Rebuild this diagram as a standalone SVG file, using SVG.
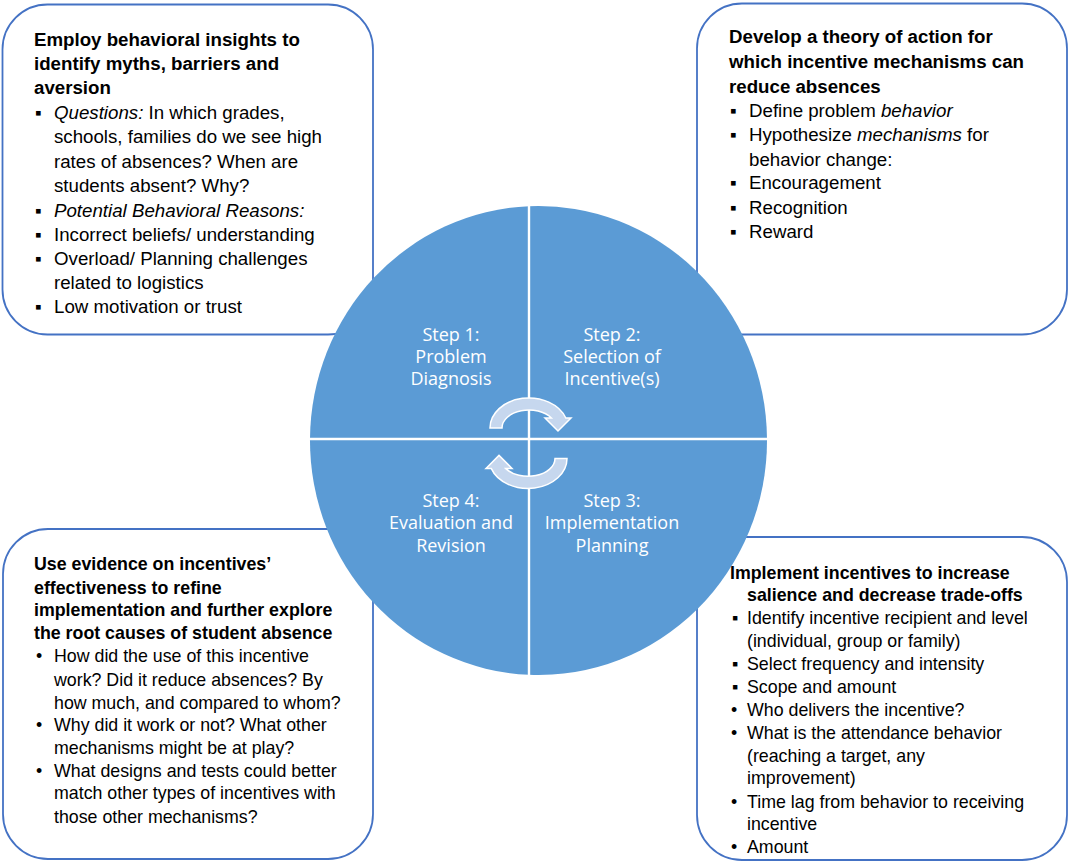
<svg xmlns="http://www.w3.org/2000/svg" width="1069" height="863" viewBox="0 0 1069 863">
<style>
.box{fill:#ffffff;stroke:#4472c4;stroke-width:1.8}
.t{font-family:"Liberation Sans",Arial,sans-serif;fill:#000000}
.big{font-size:18.7px}
.small{font-size:17.8px}
.b{font-weight:bold}
.i{font-style:italic}
.q{fill:#5b9bd5}
.step{font-family:"Open Sans","Noto Sans",sans-serif;font-size:18px;fill:#ffffff;text-anchor:middle}
.arr{fill:#c6d7ee;stroke:#ffffff;stroke-width:1.5}
.div{stroke:#ffffff;stroke-width:2.4}
</style>
<rect width="1069" height="863" fill="#ffffff"/>

<g id="box-diagnosis">
<rect class="box" x="2.5" y="4.5" width="370.5" height="330" rx="45"/>
<text class="t big b" x="34" y="46">Employ behavioral insights to</text>
<text class="t big b" x="34" y="70">identify myths, barriers and</text>
<text class="t big b" x="34" y="94">aversion</text>
<text class="t big" x="35" y="119">▪</text>
<text class="t big" x="54" y="119"><tspan class="i">Questions:</tspan> In which grades,</text>
<text class="t big" x="54" y="143">schools, families do we see high</text>
<text class="t big" x="54" y="168">rates of absences? When are</text>
<text class="t big" x="54" y="192">students absent? Why?</text>
<text class="t big" x="35" y="217">▪</text>
<text class="t big i" x="54" y="217">Potential Behavioral Reasons:</text>
<text class="t big" x="35" y="241">▪</text>
<text class="t big" x="54" y="241">Incorrect beliefs/ understanding</text>
<text class="t big" x="35" y="265">▪</text>
<text class="t big" x="54" y="265">Overload/ Planning challenges</text>
<text class="t big" x="54" y="289">related to logistics</text>
<text class="t big" x="35" y="313">▪</text>
<text class="t big" x="54" y="313">Low motivation or trust</text>
</g>

<g id="box-selection">
<rect class="box" x="697" y="3.5" width="370" height="331" rx="45"/>
<text class="t big b" x="729" y="43">Develop a theory of action for</text>
<text class="t big b" x="729" y="68">which incentive mechanisms can</text>
<text class="t big b" x="729" y="93">reduce absences</text>
<text class="t big" x="730" y="117">▪</text>
<text class="t big" x="749" y="117">Define problem <tspan class="i">behavior</tspan></text>
<text class="t big" x="730" y="141">▪</text>
<text class="t big" x="749" y="141">Hypothesize <tspan class="i">mechanisms</tspan> for</text>
<text class="t big" x="749" y="166">behavior change:</text>
<text class="t big" x="730" y="189">▪</text>
<text class="t big" x="749" y="189">Encouragement</text>
<text class="t big" x="730" y="214">▪</text>
<text class="t big" x="749" y="214">Recognition</text>
<text class="t big" x="730" y="238">▪</text>
<text class="t big" x="749" y="238">Reward</text>
</g>

<g id="box-evaluation">
<rect class="box" x="3" y="529" width="370" height="330" rx="45"/>
<text class="t small b" x="34" y="570">Use evidence on incentives’</text>
<text class="t small b" x="34" y="594">effectiveness to refine</text>
<text class="t small b" x="34" y="616">implementation and further explore</text>
<text class="t small b" x="34" y="639">the root causes of student absence</text>
<text class="t small" x="36" y="662">•</text>
<text class="t small" x="54" y="662">How did the use of this incentive</text>
<text class="t small" x="54" y="686">work? Did it reduce absences? By</text>
<text class="t small" x="54" y="709">how much, and compared to whom?</text>
<text class="t small" x="36" y="731">•</text>
<text class="t small" x="54" y="731">Why did it work or not? What other</text>
<text class="t small" x="54" y="754">mechanisms might be at play?</text>
<text class="t small" x="36" y="777">•</text>
<text class="t small" x="54" y="777">What designs and tests could better</text>
<text class="t small" x="54" y="799">match other types of incentives with</text>
<text class="t small" x="54" y="823">those other mechanisms?</text>
</g>

<g id="box-implementation">
<rect class="box" x="697" y="537" width="370" height="323" rx="45"/>
<text class="t small b" x="730" y="579">Implement incentives to increase</text>
<text class="t small b" x="747" y="601">salience and decrease trade-offs</text>
<text class="t small" x="732" y="624">▪</text>
<text class="t small" x="747" y="624">Identify incentive recipient and level</text>
<text class="t small" x="747" y="647">(individual, group or family)</text>
<text class="t small" x="732" y="670">▪</text>
<text class="t small" x="747" y="670">Select frequency and intensity</text>
<text class="t small" x="732" y="693">▪</text>
<text class="t small" x="747" y="693">Scope and amount</text>
<text class="t small" x="731" y="716">•</text>
<text class="t small" x="747" y="716">Who delivers the incentive?</text>
<text class="t small" x="731" y="739">•</text>
<text class="t small" x="747" y="739">What is the attendance behavior</text>
<text class="t small" x="747" y="762">(reaching a target, any</text>
<text class="t small" x="747" y="784">improvement)</text>
<text class="t small" x="731" y="808">•</text>
<text class="t small" x="747" y="808">Time lag from behavior to receiving</text>
<text class="t small" x="747" y="830">incentive</text>
<text class="t small" x="731" y="853">•</text>
<text class="t small" x="747" y="853">Amount</text>
</g>

<g id="step1">
<path class="q" d="M529 439 L310 439 A228.5 234.5 0 0 1 529 206.2 Z"/>
<text class="step" x="451" y="341">Step 1:</text>
<text class="step" x="451" y="363">Problem</text>
<text class="step" x="451" y="385">Diagnosis</text>
</g>
<g id="step2">
<path class="q" d="M529 439 L529 206.2 A228.5 234.5 0 0 1 767 439 Z"/>
<text class="step" x="612" y="341">Step 2:</text>
<text class="step" x="612" y="363">Selection of</text>
<text class="step" x="612" y="385">Incentive(s)</text>
</g>
<g id="step3">
<path class="q" d="M529 439 L767 439 A228.5 234.5 0 0 1 529 674.8 Z"/>
<text class="step" x="612" y="507">Step 3:</text>
<text class="step" x="612" y="529">Implementation</text>
<text class="step" x="612" y="552">Planning</text>
</g>
<g id="step4">
<path class="q" d="M529 439 L529 674.8 A228.5 234.5 0 0 1 310 439 Z"/>
<text class="step" x="451" y="507">Step 4:</text>
<text class="step" x="451" y="529">Evaluation and</text>
<text class="step" x="451" y="552">Revision</text>
</g>
<g id="dividers">
<line class="div" x1="529" y1="204" x2="529" y2="677"/>
<line class="div" x1="308" y1="439" x2="770" y2="439"/>
</g>

<g id="connectors">
<path class="arr" d="M490 428 A39 30 0 0 1 565.8 418 L571 418 L558 431 L545 418 L551.4 418 A27 18 0 0 0 502 428 Z"/>
<path class="arr" transform="rotate(180 528.5 443.2)" d="M490 428 A39 30 0 0 1 565.8 418 L571 418 L558 431 L545 418 L551.4 418 A27 18 0 0 0 502 428 Z"/>
</g>
</svg>
